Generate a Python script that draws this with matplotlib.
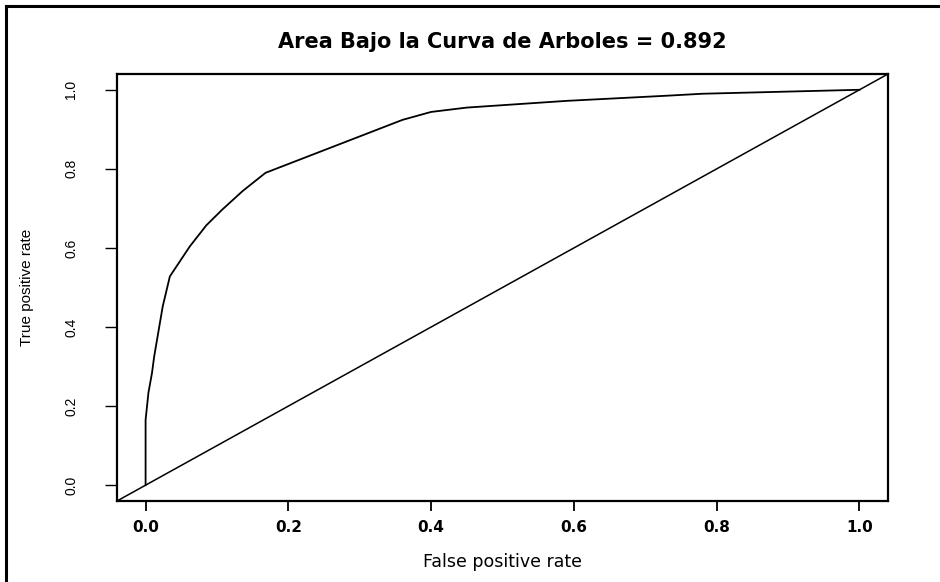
import matplotlib
matplotlib.use("Agg")
from matplotlib import pyplot as plt
from matplotlib.lines import Line2D

# ROC curve
fpr = [0.0, 0.0, 0.004, 0.009, 0.012, 0.024, 0.034, 0.062, 0.085, 0.108,
       0.136, 0.168, 0.36, 0.40, 0.45, 0.59, 0.73, 0.78, 1.0]
tpr = [0.0, 0.165, 0.234, 0.284, 0.325, 0.452, 0.528, 0.604, 0.657, 0.698,
       0.744, 0.790, 0.924, 0.944, 0.955, 0.972, 0.985, 0.990, 1.0]
auc = 0.892
ticks = [0.0, 0.2, 0.4, 0.6, 0.8, 1.0]
tickLabels = ["0.0", "0.2", "0.4", "0.6", "0.8", "1.0"]

fig = plt.figure(figsize=(9.4, 5.82), dpi=100)
ax = fig.add_axes([0.1245, 0.1392, 0.8202, 0.7337])

ax.plot(fpr, tpr, color="black", linewidth=1.3)
ax.axline((0, 0), (1, 1), color="black", linewidth=1.1)

ax.set_xlim(-0.04, 1.04)
ax.set_ylim(-0.04, 1.04)

for side in ax.spines.values():
    side.set_linewidth(1.6)

ax.set_xticks(ticks)
ax.set_xticklabels(tickLabels, family="DejaVu Sans", fontsize=11, fontweight="bold")
ax.set_yticks(ticks)
ax.set_yticklabels(tickLabels, family="Liberation Sans", fontsize=10,
                   rotation=90, va="center")
ax.tick_params(axis="x", length=7, width=1.3, pad=7)
ax.tick_params(axis="y", length=9, width=1.0, pad=19)

ax.set_title(f"Area Bajo la Curva de Arboles = {auc}", family="DejaVu Sans",
             fontsize=15, fontweight="bold", pad=19)
ax.set_xlabel("False positive rate", family="DejaVu Sans", fontsize=12.5)
ax.xaxis.set_label_coords(0.5, -0.122)
ax.set_ylabel("True positive rate", family="Liberation Sans", fontsize=11)
ax.yaxis.set_label_coords(-0.108, 0.5)

# scan frame on the left and top edges
fig.add_artist(Line2D([0.0068, 0.0068], [0, 0.99], transform=fig.transFigure,
                      color="black", linewidth=2.2))
fig.add_artist(Line2D([0.0068, 1.0], [0.99, 0.99], transform=fig.transFigure,
                      color="black", linewidth=2.2))

fig.savefig("out.png", dpi=100)
